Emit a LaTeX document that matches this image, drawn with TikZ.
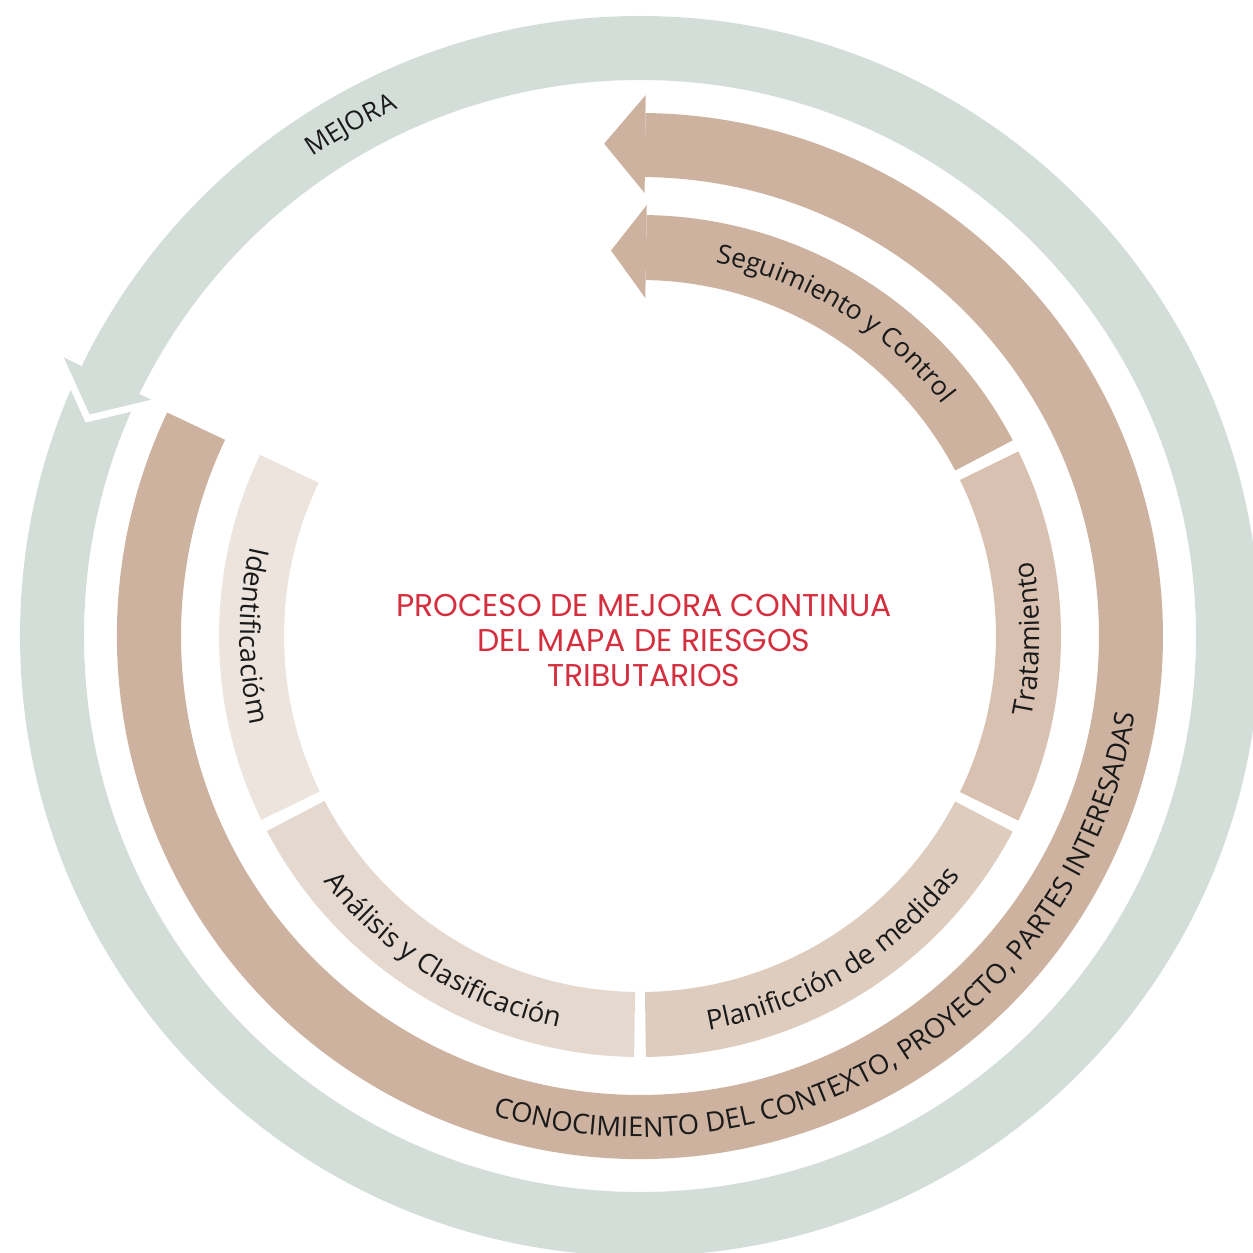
\documentclass[tikz,border=0pt]{standalone}
\usepackage{fontspec}
\setmainfont{Open Sans}
\newfontfamily\titlefont{Poppins}
\usetikzlibrary{decorations.text}
\definecolor{ringgreen}{HTML}{D3DED9}
\definecolor{brownmain}{HTML}{CDB2A0}
\definecolor{segtrat}{HTML}{D8C1B1}
\definecolor{segplan}{HTML}{DECCBF}
\definecolor{seganal}{HTML}{E5D8CE}
\definecolor{segident}{HTML}{EDE4DE}
\definecolor{titlered}{HTML}{D42F3E}
\definecolor{labeltext}{HTML}{1A1A1A}
\newcommand\annseg[5]{\fill[#5] (#1:#4pt) arc[start angle=#1,end angle=#2,radius=#4pt] -- (#2:#3pt) arc[start angle=#2,end angle=#1,radius=#3pt] -- cycle;}
\newcommand\lblfont[1]{\fontsize{#1}{30}\selectfont\color{labeltext}}
\tikzset{
  curvedlabel/.style 2 args={decorate, decoration={text along path, text align=center, text={|\lblfont{#1}|#2}}}
}
\begin{document}
\begin{tikzpicture}[x=1pt,y=1pt]
\useasboundingbox (-640,-617) rectangle (613,636);
\clip (-640,-617) rectangle (613,636);
% green MEJORA ring with arrow head
\fill[ringgreen, even odd rule] (0,0) circle[radius=620pt] (0,0) circle[radius=556pt];
\begin{scope}[rotate=154.2]
  \draw[white, line width=14pt, line join=miter] (543,0) -- (592,40) -- (640,0);
  \fill[ringgreen] (543,0) -- (592,40) -- (640,0) -- cycle;
\end{scope}
% outer brown arrow
\annseg{154.7}{449.4}{459}{523}{brownmain}
\begin{scope}[rotate=89.4]
  \fill[brownmain] (443,0) -- (492,41) -- (541,0) -- cycle;
\end{scope}
% Seguimiento y Control arrow
\annseg{27.7}{89.1}{356}{421}{brownmain}
\begin{scope}[rotate=89.1]
  \fill[brownmain] (338,0) -- (385,35) -- (431,0) -- cycle;
\end{scope}
% inner segments
\annseg{-26}{26}{356}{421}{segtrat}
\annseg{154.5}{205.9}{356}{421}{segident}
\annseg{207.6}{269.2}{356}{421}{seganal}
\annseg{270.8}{332.3}{356}{421}{segplan}
% curved labels
\path[curvedlabel={26}{MEJORA}] (140:580pt) arc[start angle=140, end angle=99, radius=580pt];
\path[curvedlabel={26.5}{Seguimiento y Control}] (95:381pt) arc[start angle=95, end angle=21, radius=381pt];
\path[curvedlabel={27.5}{Tratamiento}] (-31:400pt) arc[start angle=-31, end angle=30, radius=400pt];
\path[curvedlabel={27.5}{Identificacióm}] (150:400pt) arc[start angle=150, end angle=210, radius=400pt];
\path[curvedlabel={27.5}{Planificción de medidas}] (-95:400pt) arc[start angle=-95, end angle=-22, radius=400pt];
\path[curvedlabel={27.5}{Análisis y Clasificación}] (202:400pt) arc[start angle=202, end angle=274, radius=400pt];
\path[curvedlabel={27.3}{CONOCIMIENTO DEL CONTEXTO, PROYECTO, PARTES INTERESADAS}] (230:501pt) arc[start angle=230, end angle=374, radius=501pt];
% title
\node[font=\titlefont\fontsize{31.5}{35}\selectfont, text=titlered, align=center] (title) at (4,-4) {PROCESO DE MEJORA CONTINUA\\DEL MAPA DE RIESGOS\\TRIBUTARIOS};
\end{tikzpicture}
\end{document}
